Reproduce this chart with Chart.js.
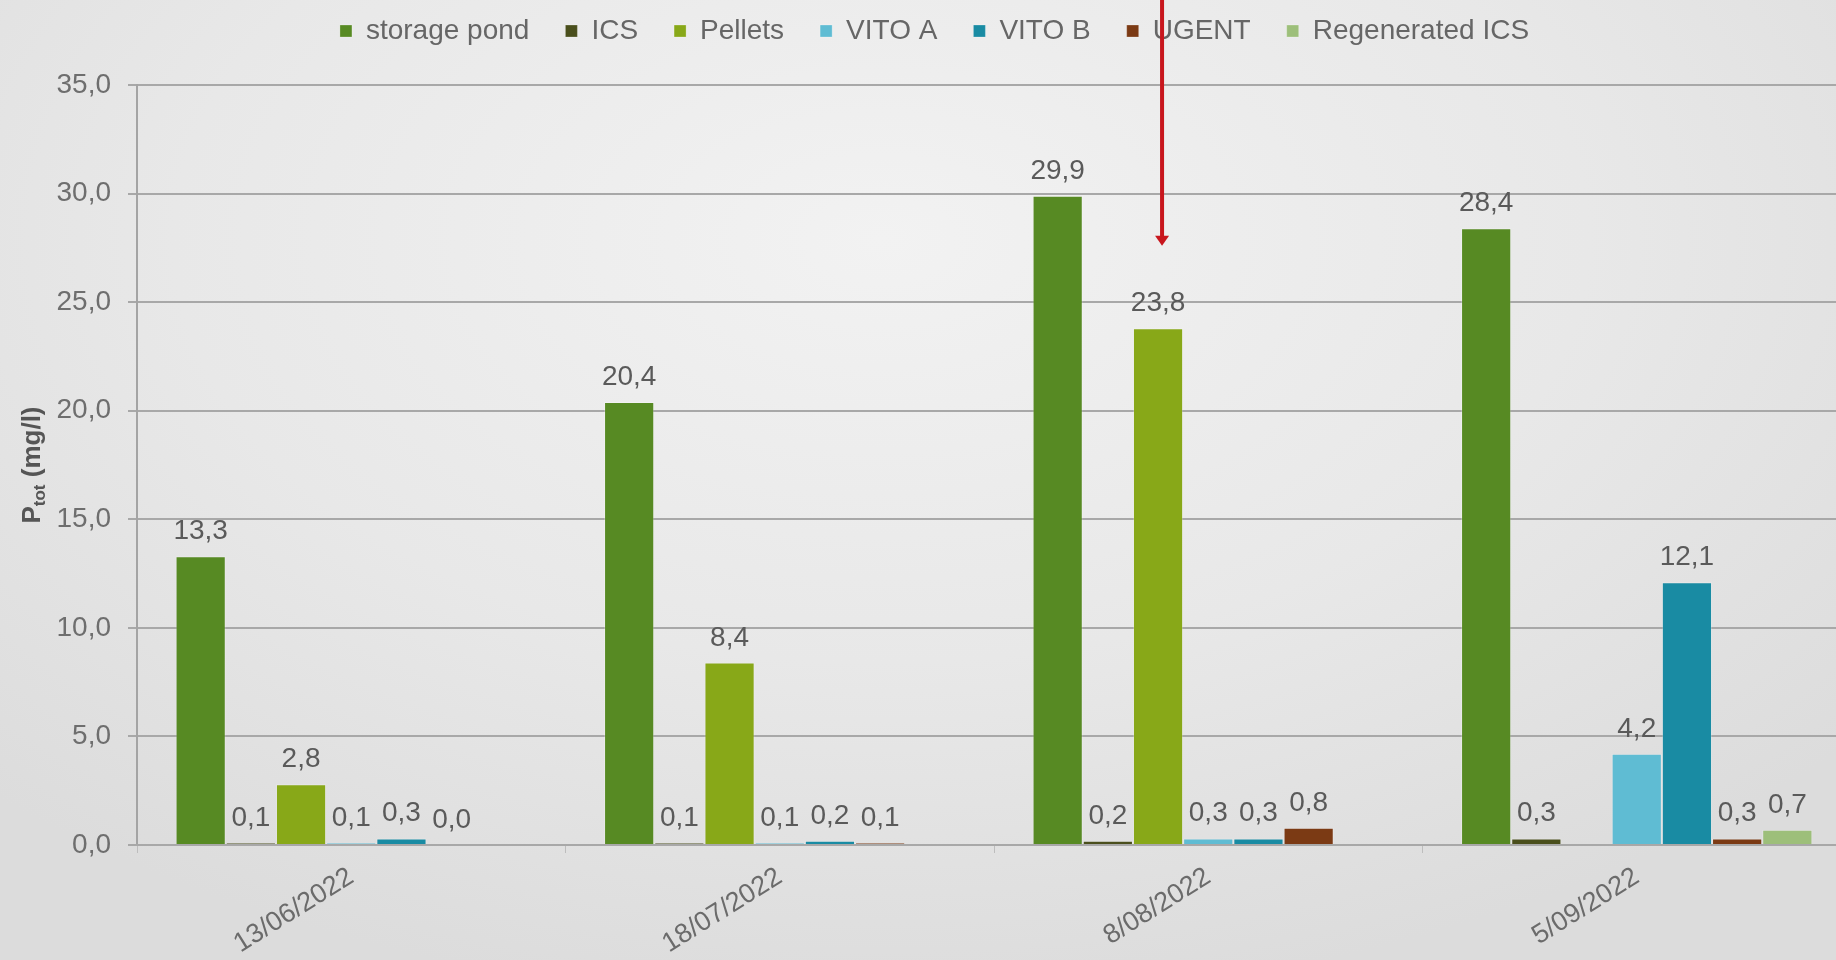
<!DOCTYPE html>
<html>
<head>
<meta charset="utf-8">
<title>Ptot</title>
<script src="https://cdn.jsdelivr.net/npm/chart.js@4.4.1/dist/chart.umd.min.js"></script>
<style>
   html, body {
      margin: 0;
      padding: 0;
      width: 1836px;
      height: 960px;
      overflow: hidden;
   }
   body {
      background: radial-gradient(ellipse 70% 80% at 48% 25%, #f2f2f2 0%, #e8e8e8 55%, #dcdcdc 100%);
   }
   #wrap {
      width: 1870px;
      height: 960px;
   }
</style>
</head>
<body>
<div id="wrap"><canvas id="chart-ptot" width="1870" height="960"></canvas></div>
<script>
// fechas de muestreo y P total (mg/l) por punto
var fechas = ["13/06/2022", "18/07/2022", "8/08/2022", "5/09/2022"];
var storagePond = [13.3, 20.4, 29.9, 28.4];
var ics = [0.1, 0.1, 0.2, 0.3];
var pellets = [2.8, 8.4, 23.8, null];
var vitoA = [0.1, 0.1, 0.3, 4.2];
var vitoB = [0.3, 0.2, 0.3, 12.1];
var ugent = [0.0, 0.1, 0.8, 0.3];
var regeneratedIcs = [null, null, null, 0.7];

var yMin = 0;
var yMax = 35;
var yStep = 5;

// la flecha roja señala la barra de Pellets del 8/08
var flechaSerie = 2;
var flechaFecha = 2;
var flechaHasta = 27.6;

function formato(v) {
   return v.toFixed(1).replace(".", ",");
}

var fuente = "'Liberation Sans', Arial, sans-serif";
Chart.defaults.font.family = fuente;
Chart.defaults.color = "#666";

var etiquetas = {
   id: "etiquetas",
   afterDatasetsDraw: function (chart) {
      var ctx = chart.ctx;
      ctx.save();
      ctx.font = "28px " + fuente;
      ctx.fillStyle = "#5a5a5a";
      ctx.textAlign = "center";
      ctx.textBaseline = "alphabetic";
      chart.data.datasets.forEach(function (ds, i) {
         chart.getDatasetMeta(i).data.forEach(function (bar, j) {
            var v = ds.data[j];
            if (v === null || v === undefined) return;
            ctx.fillText(formato(v), bar.x, bar.y - 17);
         });
      });
      ctx.restore();
   },
};

var flecha = {
   id: "flecha",
   afterDraw: function (chart) {
      var bar = chart.getDatasetMeta(flechaSerie).data[flechaFecha];
      var x = bar.x + 4;
      var yTip = chart.scales.y.getPixelForValue(flechaHasta);
      var ctx = chart.ctx;
      ctx.save();
      ctx.strokeStyle = "#c8161d";
      ctx.fillStyle = "#c8161d";
      ctx.lineWidth = 4;
      ctx.beginPath();
      ctx.moveTo(x, 0);
      ctx.lineTo(x, yTip - 8);
      ctx.stroke();
      ctx.beginPath();
      ctx.moveTo(x - 7, yTip - 10);
      ctx.lineTo(x + 7, yTip - 10);
      ctx.lineTo(x, yTip);
      ctx.closePath();
      ctx.fill();
      ctx.restore();
   },
};

// titulo del eje y con subindice
var tituloY = {
   id: "tituloY",
   afterDraw: function (chart) {
      var area = chart.chartArea;
      var ctx = chart.ctx;
      var yc = (area.top + area.bottom) / 2;
      ctx.save();
      ctx.translate(33, yc);
      ctx.rotate(-Math.PI / 2);
      ctx.fillStyle = "#555";
      ctx.textBaseline = "middle";
      ctx.textAlign = "left";
      var big = "bold 26px " + fuente;
      var small = "bold 17px " + fuente;
      ctx.font = big;
      var wP = ctx.measureText("P").width;
      var wRest = ctx.measureText(" (mg/l)").width;
      ctx.font = small;
      var wSub = ctx.measureText("tot").width;
      var x0 = -(wP + wSub + wRest) / 2;
      ctx.font = big;
      ctx.fillText("P", x0, 0);
      ctx.font = small;
      ctx.fillText("tot", x0 + wP, 7);
      ctx.font = big;
      ctx.fillText(" (mg/l)", x0 + wP + wSub, 0);
      ctx.restore();
   },
};

// leyenda arriba con altura fija
var leyenda = {
   id: "leyenda",
   beforeLayout: function (chart) {
      var lg = chart.legend;
      if (!lg || lg._altoFijo) return;
      var fit = lg.fit;
      lg.fit = function () {
         fit.call(this);
         this.height = 85;
      };
      lg._altoFijo = true;
   },
   afterLayout: function (chart) {
      var lg = chart.legend;
      lg.top -= 19;
      lg.left += 9;
      lg.right += 9;
   },
};

function serie(nombre, datos, color) {
   return {
      label: nombre,
      data: datos,
      backgroundColor: color,
      borderColor: "rgba(255, 255, 255, 0.25)",
      borderWidth: 1,
      borderSkipped: "bottom",
   };
}

var ctxPtot = document.getElementById("chart-ptot").getContext("2d");

window.graficaPtot = new Chart(ctxPtot, {
   type: "bar",
   plugins: [leyenda, etiquetas, flecha, tituloY],
   data: {
      labels: fechas,
      datasets: [
         serie("storage pond", storagePond, "#578a23"),
         serie("ICS", ics, "#4a4f1c"),
         serie("Pellets", pellets, "#88a818"),
         serie("VITO A", vitoA, "#5fbcd3"),
         serie("VITO B", vitoB, "#198ba3"),
         serie("UGENT", ugent, "#7b3a14"),
         serie("Regenerated ICS", regeneratedIcs, "#9dbf7a"),
      ],
   },
   options: {
      responsive: false,
      animation: false,
      events: [],
      datasets: {
         bar: {
            categoryPercentage: 0.82,
            barPercentage: 1,
         },
      },
      layout: {
         padding: { left: 0, right: 19, top: 0, bottom: 0 },
      },
      plugins: {
         legend: {
            position: "top",
            labels: {
               boxWidth: 12,
               boxHeight: 12,
               padding: 36,
               color: "#666",
               font: { size: 28 },
            },
         },
         tooltip: { enabled: false },
      },
      scales: {
         y: {
            min: yMin,
            max: yMax,
            afterFit: function (scale) {
               scale.width = 137;
            },
            ticks: {
               stepSize: yStep,
               padding: 17,
               color: "#6e6e6e",
               font: { size: 28 },
               callback: function (v) {
                  return formato(v);
               },
            },
            grid: {
               color: "#a8a8a8",
               lineWidth: 2,
               tickLength: 9,
               drawTicks: true,
            },
            border: {
               display: true,
               color: "#a4a4a4",
               width: 2,
            },
         },
         x: {
            afterFit: function (scale) {
               scale.height = 115;
            },
            ticks: {
               minRotation: 32,
               maxRotation: 32,
               padding: 8,
               color: "#6b6b6b",
               font: { size: 27 },
            },
            grid: {
               display: true,
               drawOnChartArea: false,
               offset: true,
               tickLength: 8,
               color: "#bdbdbd",
            },
            border: {
               display: true,
               color: "#a8a8a8",
               width: 2,
            },
         },
      },
   },
});
</script>
</body>
</html>
